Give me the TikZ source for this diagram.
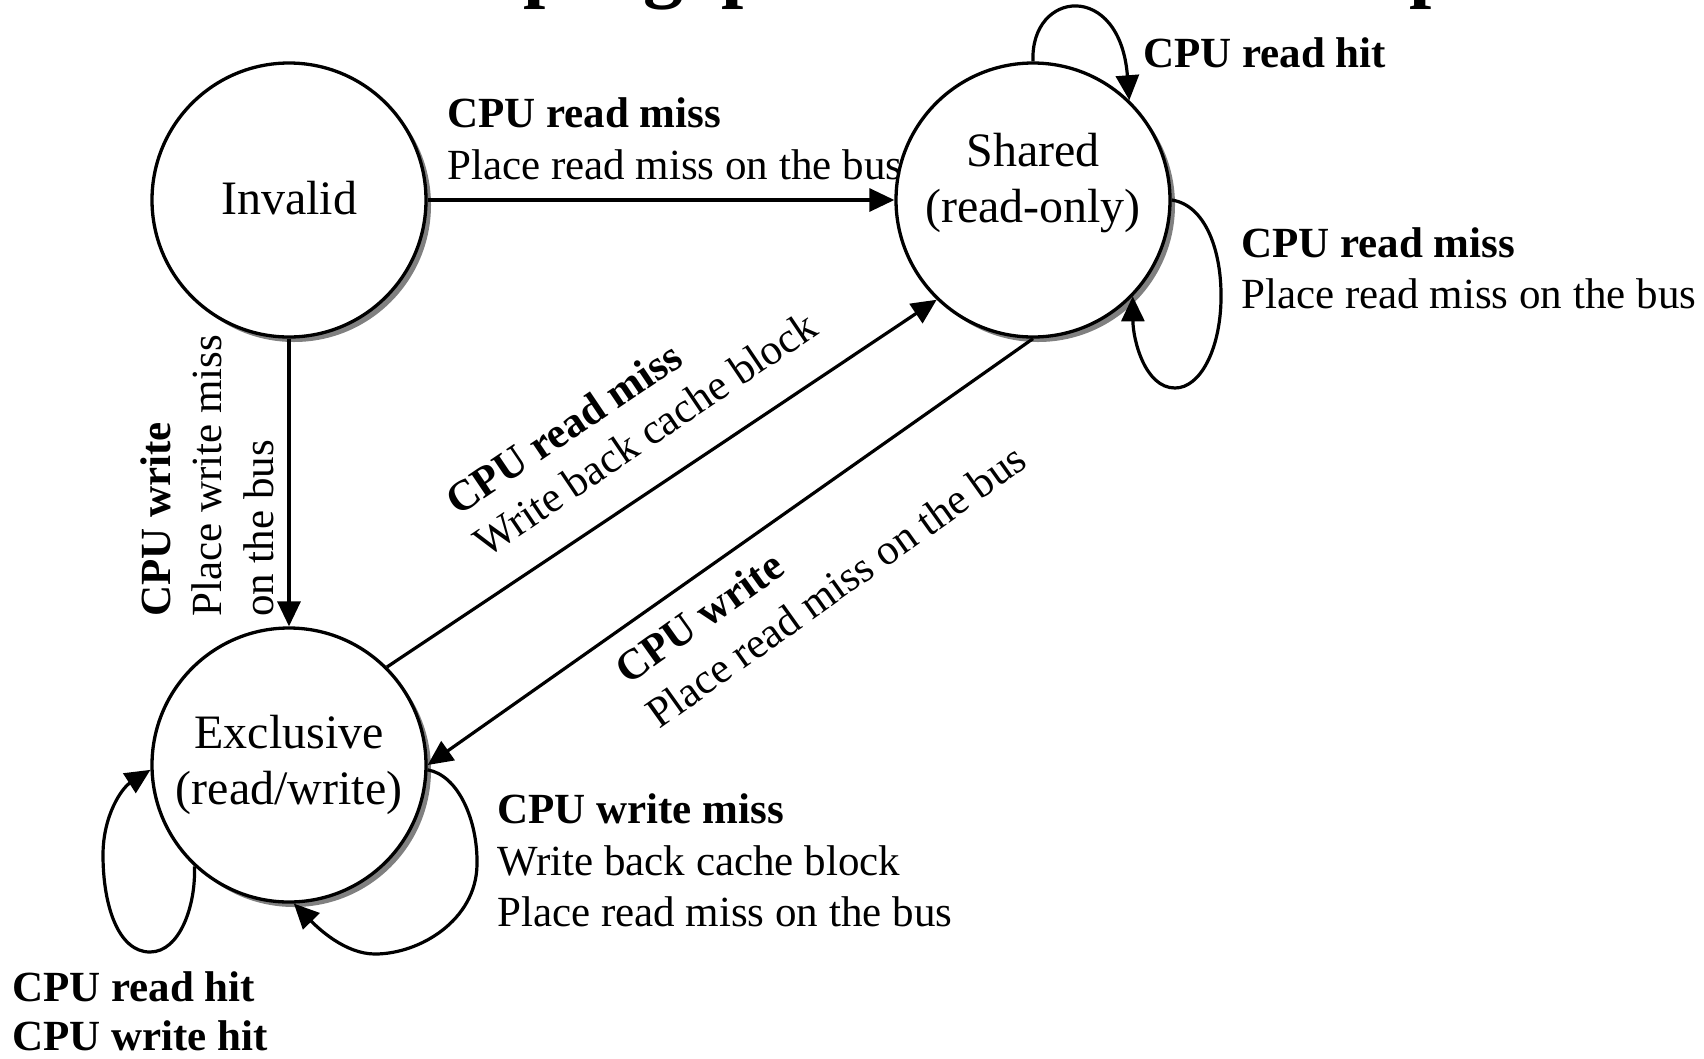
\documentclass[tikz,border=0pt]{standalone}
\usepackage{fontspec}
\setmainfont{Liberation Serif}
\usetikzlibrary{arrows.meta,shadows}
\begin{document}
\begin{tikzpicture}[x=1pt,y=-1pt,
  state/.style={circle,draw,line width=3.3pt,fill=white,minimum size=274pt,inner sep=0pt,
     drop shadow={shadow xshift=5pt,shadow yshift=-5pt,fill=black!50,opacity=1}},
  conn/.style={line width=3.2pt,-{Triangle[length=25pt,width=23pt]}},
  lbl/.style={font=\fontsize{43}{52}\selectfont,inner sep=0pt},
  lblb/.style={font=\fontsize{43}{52}\selectfont\bfseries,inner sep=0pt},
  ttl/.style={font=\fontsize{80}{96}\selectfont\bfseries,inner sep=0pt,anchor=base west},
  stxt/.style={font=\fontsize{48}{56}\selectfont,align=center,inner sep=0pt}]
\fill[white] (0,0) rectangle (1704,1058);
\useasboundingbox (0,0) rectangle (1704,1058);

% cut-off title (only descenders visible)
\begin{scope}
\clip (0,0) rectangle (1704,1058);
\node[ttl] (t1) at (523,-8) {p};
\node[ttl] (t2) at (643,-8) {g};
\node[ttl] (t3) at (721,-8) {p};
\node[ttl] (t4) at (1409,-8) {p};
\end{scope}

% states
\node[state] (I) at (289,200) {};
\node[state] (S) at (1033,200) {};
\node[state] (E) at (289,765) {};
\node[stxt] (Itxt) at (289,198) {Invalid};
\node[stxt] (Stxt) at (1033,183) {Shared\\(read-only)};
\node[stxt] (Etxt) at (289,765) {Exclusive\\(read/write)};

% transitions
\draw[conn] (I.east) -- (S.west);
\draw[conn] (I.south) -- (E.north);
\draw[conn] (E.45) -- (S.226);
\draw[conn] (S.south) -- (E.east);

% self loops
\draw[conn] (S.north) .. controls (1030,-10) and (1120,-20) .. (S.46);
\draw[conn] (S.east) .. controls (1205,205) and (1222,250) .. (1221,300)
   .. controls (1220,350) and (1200,388) .. (1175,388)
   .. controls (1145,388) and (1133,340) .. (S.-44);
\draw[conn] (E.-133) .. controls (196,905) and (180,952) .. (150,952)
   .. controls (118,952) and (103,905) .. (103,855)
   .. controls (103,815) and (122,788) .. (E.182);
\draw[conn] (E.-2) .. controls (458,775) and (478,820) .. (477,865)
   .. controls (476,920) and (420,954) .. (375,954)
   .. controls (345,954) and (318,928) .. (E.-88);

% labels
\node[lblb,anchor=base west] (l1a) at (447,127) {CPU read miss};
\node[lbl,anchor=base west] (l1b) at (447,179) {Place read miss on the bus};
\node[lblb,anchor=base west] (l2) at (1143,67) {CPU read hit};
\node[lblb,anchor=base west] (l3a) at (1241,257) {CPU read miss};
\node[lbl,anchor=base west] (l3b) at (1241,308) {Place read miss on the bus};
\node[lblb,anchor=base west,rotate=90] (l4a) at (170,617) {CPU write};
\node[lbl,anchor=base west,rotate=90] (l4b) at (221,617) {Place write miss};
\node[lbl,anchor=base west,rotate=90] (l4c) at (273,617) {on the bus};
\node[lblb,anchor=base west,rotate=34] (l5a) at (458,517) {CPU read miss};
\node[lbl,anchor=base west,rotate=34] (l5b) at (486,559) {Write back cache block};
\node[lblb,anchor=base west,rotate=35.5] (l6a) at (628,686) {CPU write};
\node[lbl,anchor=base west,rotate=35.5] (l6b) at (659,730) {Place read miss on the bus};
\node[lblb,anchor=base west] (l7a) at (497,823) {CPU write miss};
\node[lbl,anchor=base west] (l7b) at (497,875) {Write back cache block};
\node[lbl,anchor=base west] (l7c) at (497,926) {Place read miss on the bus};
\node[lblb,anchor=base west] (l8a) at (12,1001) {CPU read hit};
\node[lblb,anchor=base west] (l8b) at (12,1050) {CPU write hit};
\end{tikzpicture}
\end{document}
